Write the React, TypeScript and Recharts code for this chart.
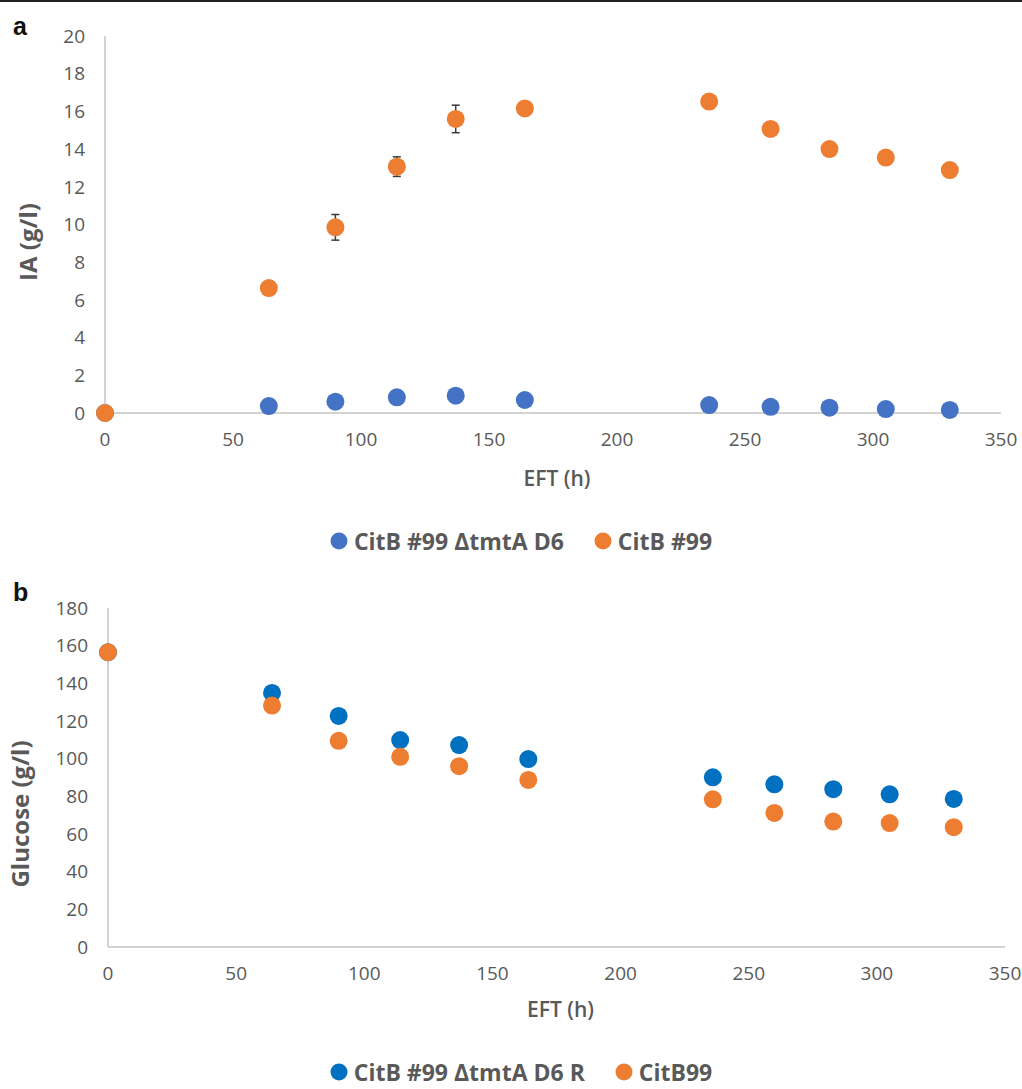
import React from "react";
import { ScatterChart, Scatter, XAxis, YAxis, ErrorBar, Legend, Label } from "recharts";

// sampling times (h) shared by both panels
const eftHours = [0, 64, 90, 114, 137, 164, 236, 260, 283, 305, 330];

// panel a: itaconic acid (g/l)
const iaDeltaTmtA = [0, 0.37, 0.6, 0.83, 0.92, 0.69, 0.42, 0.33, 0.28, 0.21, 0.16];
const iaCitB99 = [0, 6.63, 9.85, 13.07, 15.6, 16.16, 16.52, 15.07, 14.0, 13.55, 12.89];
const iaCitB99Err = [0, 0, 0.68, 0.52, 0.73, 0, 0, 0, 0, 0, 0];

// panel b: glucose (g/l)
const glucoseDeltaTmtA = [156.5, 134.9, 122.7, 109.9, 107.2, 99.8, 90.1, 86.4, 83.8, 81.1, 78.6];
const glucoseCitB99 = [156.5, 128.2, 109.5, 101.0, 96.0, 88.7, 78.4, 71.2, 66.6, 65.8, 63.6];

const eftTicks = [0, 50, 100, 150, 200, 250, 300, 350];
const iaTicks = [0, 2, 4, 6, 8, 10, 12, 14, 16, 18, 20];
const glucoseTicks = [0, 20, 40, 60, 80, 100, 120, 140, 160, 180];

const namesA = ["CitB #99 ΔtmtA D6", "CitB #99"];
const namesB = ["CitB #99 ΔtmtA D6 R", "CitB99"];

const FONT = "'Open Sans', 'Noto Sans', sans-serif";
const GREY = "#595959";
const AXIS = "#c4c4c4";
const ORANGE = "#ED7D31";

const toPoints = (ys: number[], errs?: number[]) =>
  eftHours.map((x, i) => ({ x, y: ys[i], err: errs ? errs[i] : 0 }));

const tickStyle = { fill: GREY, fontSize: 19, fontFamily: FONT };

const dot = (props: any) => <circle cx={props.cx} cy={props.cy} r={9} fill={props.fill} />;

function legendContent(names: string[], colors: string[]) {
  return () => (
    <div
      style={{
        display: "flex",
        justifyContent: "center",
        alignItems: "center",
        gap: 30,
        paddingLeft: 20,
        fontFamily: FONT,
        fontWeight: 700,
        fontSize: 23,
        lineHeight: "28px",
        color: GREY,
      }}
    >
      {names.map((n, i) => (
        <span key={n} style={{ display: "flex", alignItems: "center" }}>
          <svg width={18} height={18}>
            <circle cx={9} cy={9} r={8.5} fill={colors[i]} />
          </svg>
          <span style={{ marginLeft: 6 }}>{n}</span>
        </span>
      ))}
    </div>
  );
}

interface PanelProps {
  letter: string;
  letterTop: number;
  height: number;
  margin: { top: number; right: number; bottom: number; left: number };
  yTicks: number[];
  yTitle: string;
  yTitleX: number;
  yTitleY: number;
  xTitleY: number;
  blue: string;
  blueName: string;
  blueData: { x: number; y: number; err: number }[];
  orangeName: string;
  orangeData: { x: number; y: number; err: number }[];
  names: string[];
  legendTop: number;
  withErrors?: boolean;
  yAxisWidth: number;
}

function Panel(p: PanelProps) {
  const yMax = p.yTicks[p.yTicks.length - 1];
  return (
    <div style={{ position: "relative", width: 1022, height: p.height }}>
      <div
        style={{
          position: "absolute",
          left: 13,
          top: p.letterTop,
          fontFamily: "'Liberation Sans', Arial, sans-serif",
          fontWeight: 700,
          fontSize: 25,
          color: "#111",
          zIndex: 2,
        }}
      >
        {p.letter}
      </div>
      <ScatterChart width={1022} height={p.height} margin={p.margin}>
        <XAxis
          type="number"
          dataKey="x"
          domain={[0, 350]}
          ticks={eftTicks}
          interval={0}
          axisLine={{ stroke: AXIS, strokeWidth: 1.5 }}
          tickLine={false}
          tickSize={0}
          tickMargin={20}
          tick={tickStyle}
          height={90}
        >
          <Label
            content={({ viewBox }: any) => (
              <text
                x={viewBox.x + viewBox.width / 2 + 4}
                y={viewBox.y + p.xTitleY}
                textAnchor="middle"
                dominantBaseline="middle"
                fill={GREY}
                fontFamily={FONT}
                fontWeight={600}
                fontSize={21}
              >
                EFT (h)
              </text>
            )}
          />
        </XAxis>
        <YAxis
          type="number"
          dataKey="y"
          domain={[0, yMax]}
          ticks={p.yTicks}
          interval={0}
          axisLine={{ stroke: AXIS, strokeWidth: 1.5 }}
          tickLine={false}
          tickSize={0}
          tickMargin={20}
          tick={tickStyle}
          width={p.yAxisWidth}
        >
          <Label
            content={() => (
              <text
                transform={`translate(${p.yTitleX},${p.yTitleY}) rotate(-90)`}
                textAnchor="middle"
                dominantBaseline="middle"
                fill={GREY}
                fontFamily={FONT}
                fontWeight={700}
                fontSize={24}
              >
                {p.yTitle}
              </text>
            )}
          />
        </YAxis>
        <Legend
          layout="horizontal"
          verticalAlign="middle"
          align="center"
          wrapperStyle={{ top: p.legendTop, left: 0, width: 1022 }}
          content={legendContent(p.names, [p.blue, ORANGE])}
        />
        <Scatter name={p.blueName} data={p.blueData} fill={p.blue} shape={dot} isAnimationActive={false} />
        <Scatter name={p.orangeName} data={p.orangeData} fill={ORANGE} shape={dot} isAnimationActive={false}>
          {p.withErrors && (
            <ErrorBar dataKey="err" direction="y" width={4} strokeWidth={1.5} stroke="#3a3a3a" />
          )}
        </Scatter>
      </ScatterChart>
    </div>
  );
}

export default function App() {
  return (
    <div style={{ position: "relative", width: 1022, height: 1089, background: "#fff" }}>
      <style>{`body{margin:0}`}</style>
      <div style={{ position: "absolute", left: 0, top: 0, width: 1022, height: 2, background: "#222", zIndex: 3 }} />
      <div style={{ position: "absolute", left: 0, top: 0 }}>
        <Panel
          letter="a"
          letterTop={12}
          height={570}
          margin={{ top: 36, right: 21, bottom: 67, left: 0 }}
          yTicks={iaTicks}
          yTitle="IA (g/l)"
          yTitleX={31}
          yTitleY={242}
          xTitleY={67}
          blue="#4472C4"
          blueName={namesA[0]}
          blueData={toPoints(iaDeltaTmtA)}
          orangeName={namesA[1]}
          orangeData={toPoints(iaCitB99, iaCitB99Err)}
          names={namesA}
          legendTop={527}
          withErrors
          yAxisWidth={105}
        />
      </div>
      <div style={{ position: "absolute", left: 0, top: 565 }}>
        <Panel
          letter="b"
          letterTop={13}
          height={524}
          margin={{ top: 43, right: 17, bottom: 52, left: 0 }}
          yTicks={glucoseTicks}
          yTitle="Glucose (g/l)"
          yTitleX={23}
          yTitleY={249}
          xTitleY={64}
          blue="#0070C0"
          blueName={namesB[0]}
          blueData={toPoints(glucoseDeltaTmtA)}
          orangeName={namesB[1]}
          orangeData={toPoints(glucoseCitB99)}
          names={namesB}
          legendTop={493}
          yAxisWidth={108}
        />
      </div>
    </div>
  );
}
